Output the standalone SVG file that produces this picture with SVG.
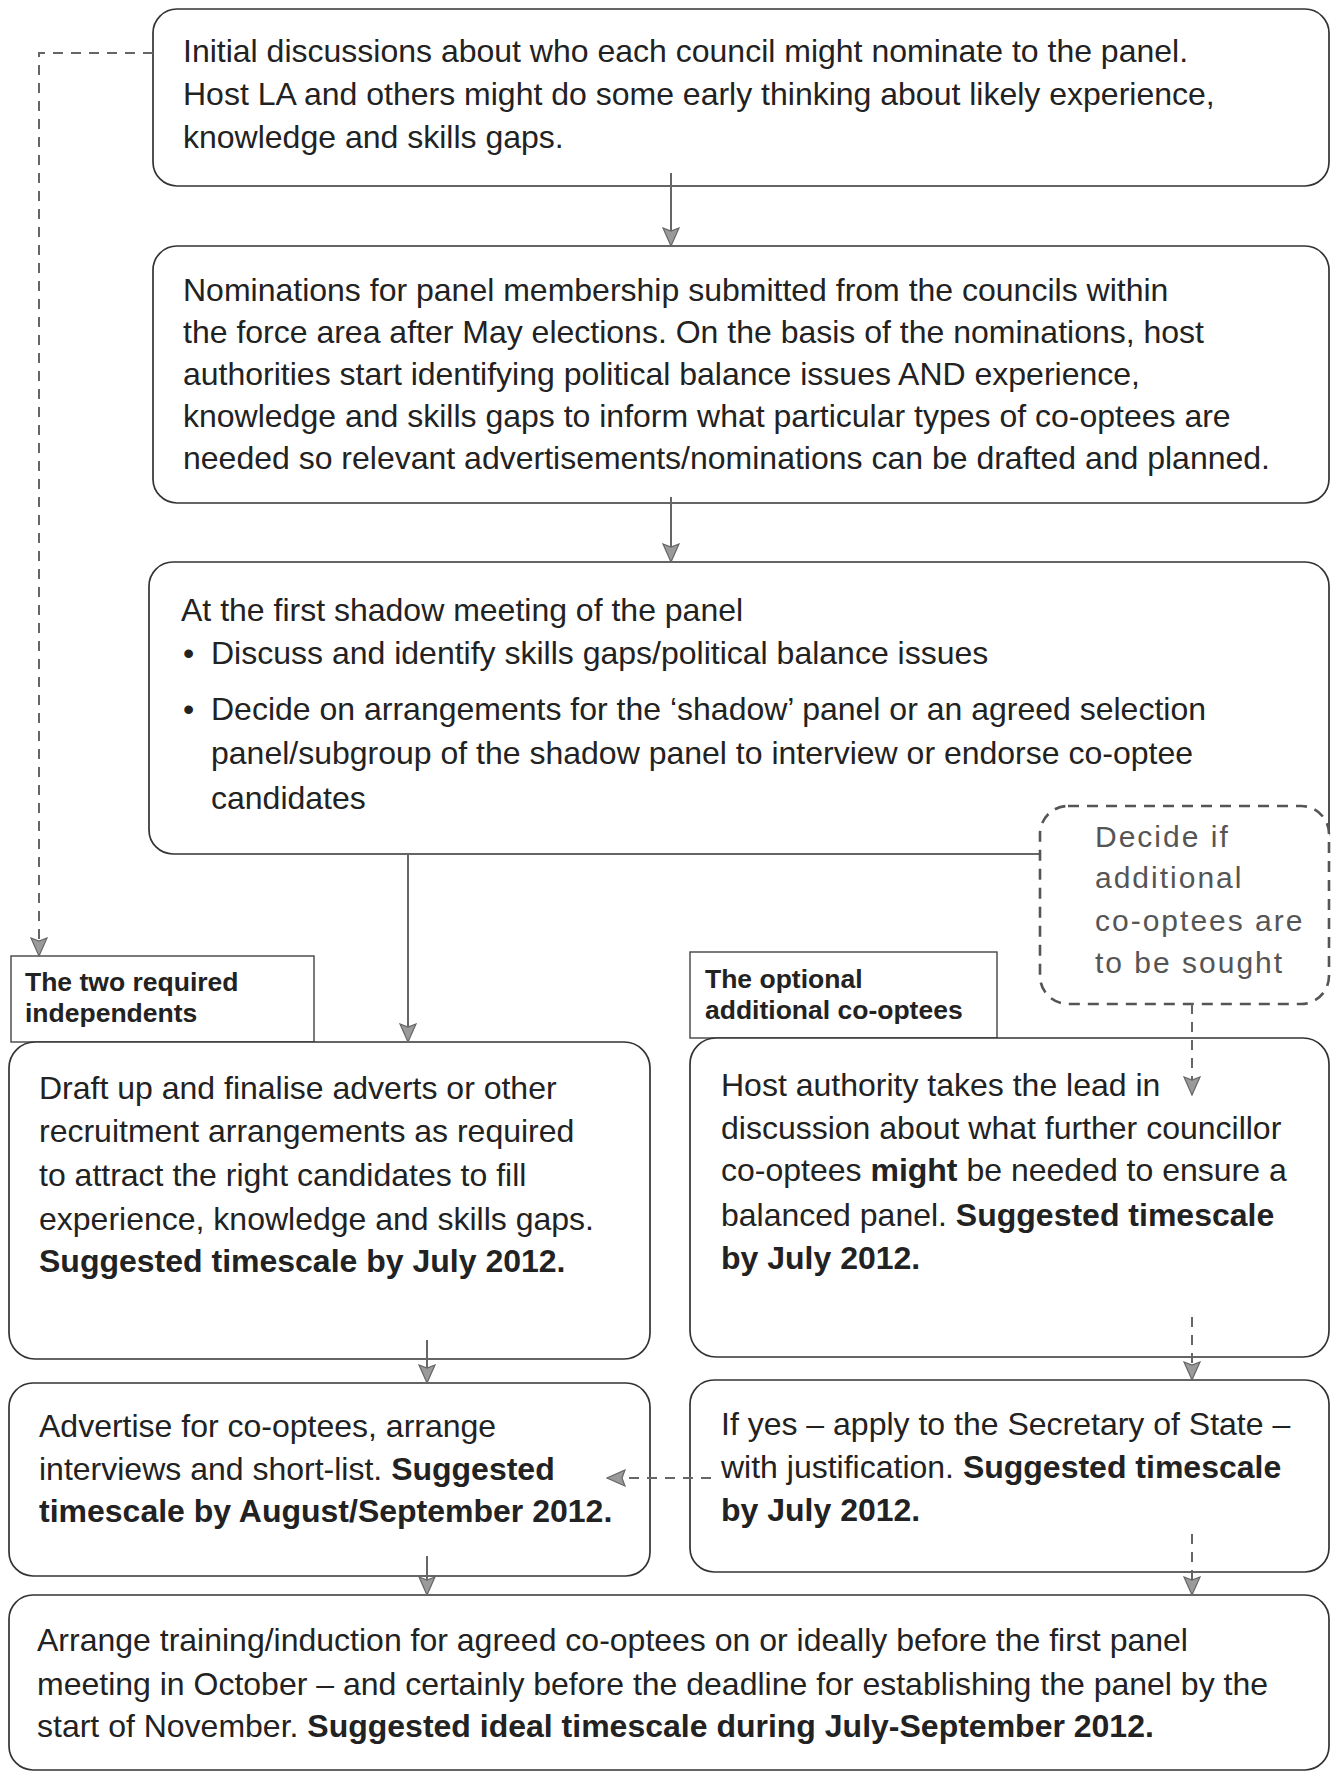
<svg xmlns="http://www.w3.org/2000/svg" width="1332" height="1773" viewBox="0 0 1332 1773">
<style>
.box{fill:#fff;stroke:#333;stroke-width:1.7}
.tabbox{fill:#fff;stroke:#444;stroke-width:1.4}
.dbox{fill:#fff;stroke:#555;stroke-width:2.6;stroke-dasharray:11 8}
.t{font-family:"Liberation Sans",Arial,Helvetica,sans-serif;font-size:32px;fill:#222}
.b{font-weight:bold}
.tab{font-family:"Liberation Sans",Arial,Helvetica,sans-serif;font-size:26.5px;font-weight:bold;fill:#222}
.dec{font-family:"Liberation Sans",Arial,Helvetica,sans-serif;font-size:30px;letter-spacing:2px;fill:#555}
.c{fill:none;stroke:#666;stroke-width:2}
.d{stroke-dasharray:10 8}
</style>
<defs>
<marker id="ah" viewBox="0 0 20 18" refX="19" refY="9" markerUnits="userSpaceOnUse" markerWidth="20" markerHeight="18" orient="auto">
<path d="M1,1 L19,9 L1,17 L4,9 z" fill="#9a9a9a" stroke="#666" stroke-width="1.2"/>
</marker>
</defs>

<g id="n1">
<rect class="box" x="153" y="9" width="1176" height="177" rx="24"/>
<text class="t" x="183" y="62">Initial discussions about who each council might nominate to the panel.</text>
<text class="t" x="183" y="105">Host LA and others might do some early thinking about likely experience,</text>
<text class="t" x="183" y="148">knowledge and skills gaps.</text>
</g>

<g id="n2">
<rect class="box" x="153" y="246" width="1176" height="257" rx="24"/>
<text class="t" x="183" y="301">Nominations for panel membership submitted from the councils within</text>
<text class="t" x="183" y="343">the force area after May elections. On the basis of the nominations, host</text>
<text class="t" x="183" y="385">authorities start identifying political balance issues AND experience,</text>
<text class="t" x="183" y="427">knowledge and skills gaps to inform what particular types of co-optees are</text>
<text class="t" x="183" y="469">needed so relevant advertisements/nominations can be drafted and planned.</text>
</g>

<g id="n3">
<rect class="box" x="149" y="562" width="1180" height="292" rx="24"/>
<text class="t" x="181" y="621">At the first shadow meeting of the panel</text>
<text class="t" x="183" y="664">•</text>
<text class="t" x="211" y="664">Discuss and identify skills gaps/political balance issues</text>
<text class="t" x="183" y="720">•</text>
<text class="t" x="211" y="720">Decide on arrangements for the ‘shadow’ panel or an agreed selection</text>
<text class="t" x="211" y="764">panel/subgroup of the shadow panel to interview or endorse co-optee</text>
<text class="t" x="211" y="809">candidates</text>
</g>

<g id="n4">
<rect class="dbox" x="1040" y="806" width="289" height="198" rx="28"/>
<text class="dec" x="1095" y="847">Decide if</text>
<text class="dec" x="1095" y="888">additional</text>
<text class="dec" x="1095" y="931">co-optees are</text>
<text class="dec" x="1095" y="973">to be sought</text>
</g>

<g id="tab1">
<rect class="tabbox" x="11" y="956" width="303" height="86"/>
<text class="tab" x="25" y="991">The two required</text>
<text class="tab" x="25" y="1022">independents</text>
</g>

<g id="tab2">
<rect class="tabbox" x="690" y="952" width="307" height="86"/>
<text class="tab" x="705" y="988">The optional</text>
<text class="tab" x="705" y="1019">additional co-optees</text>
</g>

<g id="n5">
<rect class="box" x="9" y="1042" width="641" height="317" rx="26"/>
<text class="t" x="39" y="1099">Draft up and finalise adverts or other</text>
<text class="t" x="39" y="1142">recruitment arrangements as required</text>
<text class="t" x="39" y="1186">to attract the right candidates to fill</text>
<text class="t" x="39" y="1230">experience, knowledge and skills gaps.</text>
<text class="t b" x="39" y="1272">Suggested timescale by July 2012.</text>
</g>

<g id="n6">
<rect class="box" x="690" y="1038" width="639" height="319" rx="26"/>
<text class="t" x="721" y="1096">Host authority takes the lead in</text>
<text class="t" x="721" y="1139">discussion about what further councillor</text>
<text class="t" x="721" y="1181">co-optees <tspan class="b">might</tspan> be needed to ensure a</text>
<text class="t" x="721" y="1226">balanced panel. <tspan class="b">Suggested timescale</tspan></text>
<text class="t b" x="721" y="1269">by July 2012.</text>
</g>

<g id="n7">
<rect class="box" x="9" y="1383" width="641" height="193" rx="24"/>
<text class="t" x="39" y="1437">Advertise for co-optees, arrange</text>
<text class="t" x="39" y="1480">interviews and short-list. <tspan class="b">Suggested</tspan></text>
<text class="t b" x="39" y="1522">timescale by August/September 2012.</text>
</g>

<g id="n8">
<rect class="box" x="690" y="1380" width="639" height="192" rx="24"/>
<text class="t" x="721" y="1435">If yes – apply to the Secretary of State –</text>
<text class="t" x="721" y="1478">with justification. <tspan class="b">Suggested timescale</tspan></text>
<text class="t b" x="721" y="1521">by July 2012.</text>
</g>

<g id="n9">
<rect class="box" x="9" y="1595" width="1320" height="175" rx="24"/>
<text class="t" x="37" y="1651">Arrange training/induction for agreed co-optees on or ideally before the first panel</text>
<text class="t" x="37" y="1695">meeting in October – and certainly before the deadline for establishing the panel by the</text>
<text class="t" x="37" y="1737">start of November. <tspan class="b">Suggested ideal timescale during July-September 2012.</tspan></text>
</g>

<g id="connectors">
<path class="c" d="M671,173 L671,246" marker-end="url(#ah)"/>
<path class="c" d="M671,497 L671,562" marker-end="url(#ah)"/>
<path class="c" d="M408,854 L408,1042" marker-end="url(#ah)"/>
<path class="c" d="M427,1340 L427,1383" marker-end="url(#ah)"/>
<path class="c" d="M427,1556 L427,1595" marker-end="url(#ah)"/>
<path class="c d" d="M153,53 L39,53 L39,956" marker-end="url(#ah)"/>
<path class="c d" d="M1192,1004 L1192,1095" marker-end="url(#ah)"/>
<path class="c d" d="M1192,1317 L1192,1380" marker-end="url(#ah)"/>
<path class="c d" d="M1192,1534 L1192,1595" marker-end="url(#ah)"/>
<path class="c d" d="M711,1478 L607,1478" marker-end="url(#ah)"/>
</g>
</svg>
